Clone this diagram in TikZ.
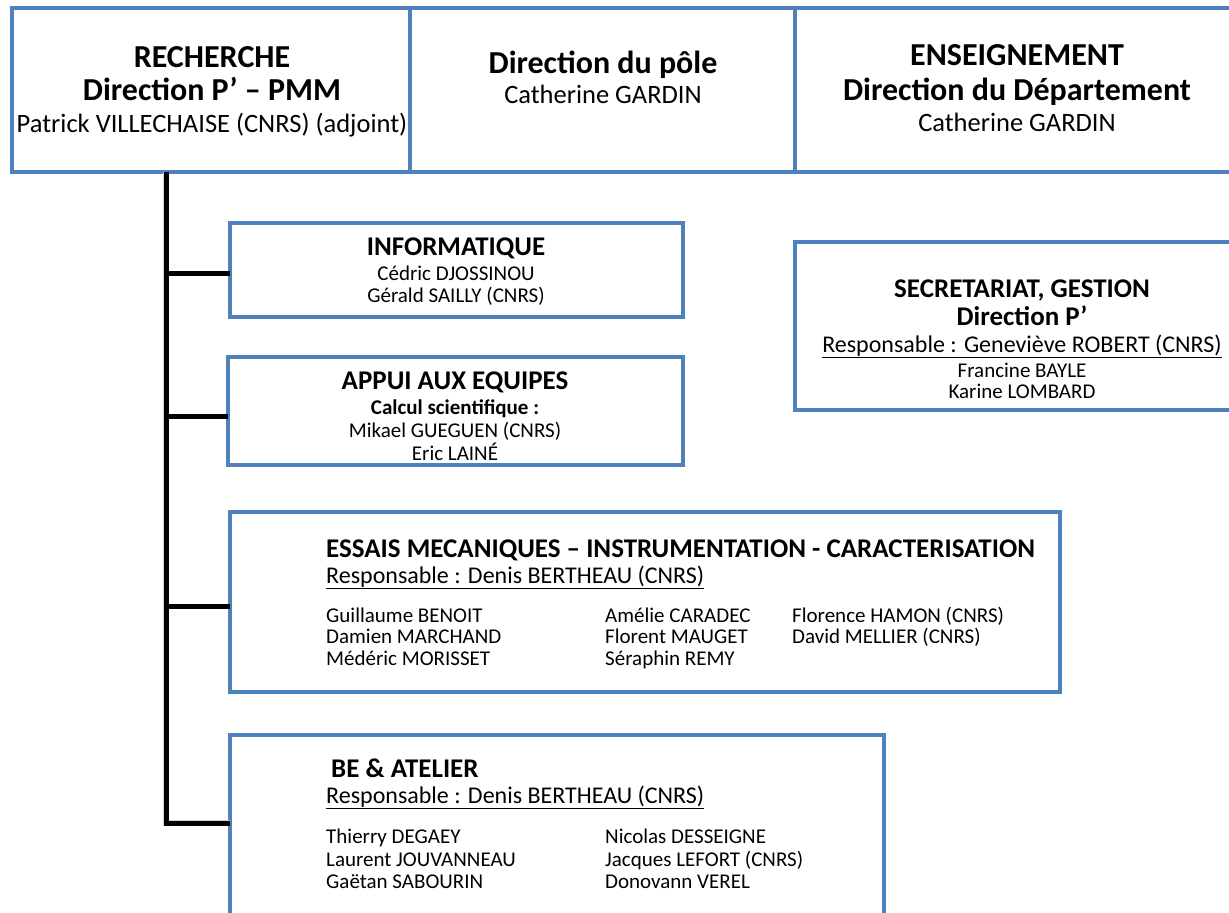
\documentclass[tikz,border=0pt]{standalone}
\usepackage{fontspec}
\setmainfont{Carlito}
\usetikzlibrary{positioning}
\definecolor{boxblue}{HTML}{4F81BD}
\newcommand{\titlefont}{\fontsize{32}{33}\selectfont\bfseries}
\newcommand{\topnames}{\fontsize{26.5}{31}\selectfont}
\newcommand{\secfont}{\fontsize{27}{27}\selectfont\bfseries}
\newcommand{\respfont}{\fontsize{24}{26}\selectfont}
\newcommand{\namefont}{\fontsize{21}{22}\selectfont}
\tikzset{
  unitbox/.style={draw=boxblue, line width=4pt, rectangle, inner sep=0pt, outer sep=0pt, anchor=north west},
  spine/.style={line width=5pt, black},
  spineshadow/.style={line width=6pt, black!18, xshift=2pt, yshift=-2pt},
  txt/.style={inner sep=0pt, anchor=base},
  ltxt/.style={inner sep=0pt, anchor=base west}
}

\begin{document}
\begin{tikzpicture}[x=1pt, y=-1pt]
        \useasboundingbox (0,0) rectangle (1229,913);
        \clip (0,0) rectangle (1229,913);
        % top row
        \node[unitbox, minimum width=398pt, minimum height=164pt] (rech) at (12,8) {};
        \node[unitbox, minimum width=385pt, minimum height=164pt] (pole) at (410,8) {};
        \node[unitbox, minimum width=460pt, minimum height=164pt] (ens) at (795,8) {};
        \node[txt] (rechA) at (212,67) {\titlefont RECHERCHE};
        \node[txt] (rechB) at (212,100) {\titlefont Direction P’ – PMM};
        \node[txt] (rechC) at (212,132) {\topnames Patrick VILLECHAISE (CNRS) (adjoint)};
        \node[txt] (poleA) at (603,73) {\titlefont Direction du pôle};
        \node[txt] (poleB) at (603,103) {\topnames Catherine GARDIN};
        \node[txt] (ensA) at (1017,65) {\titlefont ENSEIGNEMENT};
        \node[txt] (ensB) at (1017,100) {\titlefont Direction du Département};
        \node[txt] (ensC) at (1017,131) {\topnames Catherine GARDIN};

        % services
        \node[unitbox, minimum width=453pt, minimum height=94pt] (info) at (230,223) {};
        \node[txt] (infoA) at (456,255) {\secfont INFORMATIQUE};
        \node[txt] (infoB) at (456,280) {\namefont Cédric DJOSSINOU};
        \node[txt] (infoC) at (456,302) {\namefont Gérald SAILLY (CNRS)};

        \node[unitbox, minimum width=455pt, minimum height=108pt] (appui) at (228,357) {};
        \node[txt] (appuiA) at (455,389) {\secfont APPUI AUX EQUIPES};
        \node[txt] (appuiB) at (455,414) {\namefont\bfseries Calcul scientifique :};
        \node[txt] (appuiC) at (455,437) {\namefont Mikael GUEGUEN (CNRS)};
        \node[txt] (appuiD) at (455,460) {\namefont Eric LAINÉ};

        \node[unitbox, minimum width=450pt, minimum height=168pt] (secr) at (795,242) {};
        \node[txt] (secrA) at (1022,297) {\secfont SECRETARIAT, GESTION};
        \node[txt] (secrB) at (1022,325) {\secfont Direction P’};
        \node[txt] (secrC) at (1022,352) {\respfont\underline{Responsable : Geneviève ROBERT (CNRS)}};
        \node[txt] (secrD) at (1022,377) {\namefont Francine BAYLE};
        \node[txt] (secrE) at (1022,398) {\namefont Karine LOMBARD};

        \node[unitbox, minimum width=830pt, minimum height=180pt] (essais) at (230,512) {};
        \node[ltxt] (essA) at (326,557) {\secfont ESSAIS MECANIQUES – INSTRUMENTATION - CARACTERISATION};
        \node[ltxt] (essB) at (326,583) {\respfont\underline{Responsable : Denis BERTHEAU (CNRS)}};
        \node[ltxt] (essC) at (326,622) {\namefont Guillaume BENOIT};
        \node[ltxt] (essD) at (326,643) {\namefont Damien MARCHAND};
        \node[ltxt] (essE) at (326,665) {\namefont Médéric MORISSET};
        \node[ltxt] (essF) at (605,622) {\namefont Amélie CARADEC};
        \node[ltxt] (essG) at (605,643) {\namefont Florent MAUGET};
        \node[ltxt] (essH) at (605,665) {\namefont Séraphin REMY};
        \node[ltxt] (essI) at (792,622) {\namefont Florence HAMON (CNRS)};
        \node[ltxt] (essJ) at (792,643) {\namefont David MELLIER (CNRS)};

        \node[unitbox, minimum width=654pt, minimum height=190pt] (be) at (230,735) {};
        \node[ltxt] (beA) at (331,777) {\secfont BE \& ATELIER};
        \node[ltxt] (beB) at (326,803) {\respfont\underline{Responsable : Denis BERTHEAU (CNRS)}};
        \node[ltxt] (beC) at (326,843) {\namefont Thierry DEGAEY};
        \node[ltxt] (beD) at (326,866) {\namefont Laurent JOUVANNEAU};
        \node[ltxt] (beE) at (326,888) {\namefont Gaëtan SABOURIN};
        \node[ltxt] (beF) at (605,843) {\namefont Nicolas DESSEIGNE};
        \node[ltxt] (beG) at (605,866) {\namefont Jacques LEFORT (CNRS)};
        \node[ltxt] (beH) at (605,888) {\namefont Donovann VEREL};

        % liaisons
        \coordinate (top) at (166,172);
        \coordinate (bot) at (166,823);
        \begin{scope}[on background layer/.try]
          \draw[spineshadow] (top) -- (bot) -- (bot -| be.west);
        \end{scope}
        \draw[spine] (top) -- (bot) -- (bot -| be.west);
        \draw[spine] (top |- 0,273) -- (info.west |- 0,273);
        \draw[spine] (top |- 0,416) -- (appui.west |- 0,416);
        \draw[spine] (top |- 0,606) -- (essais.west |- 0,606);
    \end{tikzpicture}
\end{document}
